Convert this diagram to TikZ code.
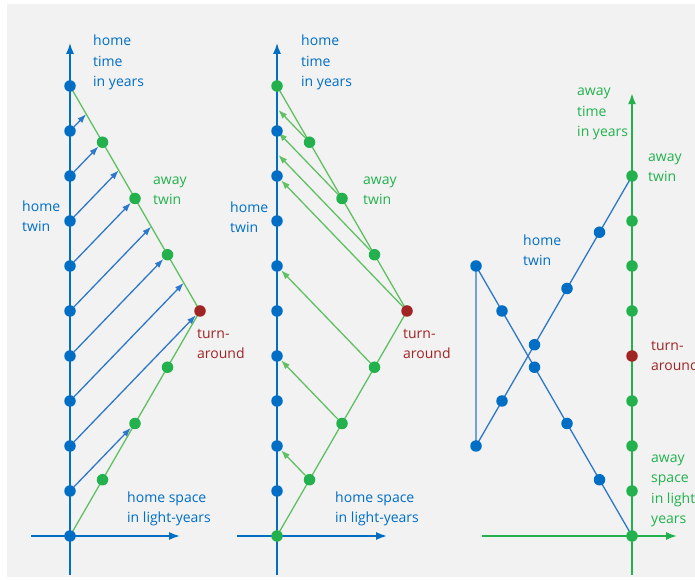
\documentclass[tikz,border=0pt]{standalone}
\usepackage{fontspec}
\setmainfont{Open Sans}
\usetikzlibrary{arrows.meta}
\definecolor{hblue}{RGB}{0,110,196}
\definecolor{sblue}{RGB}{45,120,200}
\definecolor{agreen}{RGB}{34,177,76}
\definecolor{lgreen}{RGB}{95,192,100}
\definecolor{tred}{RGB}{160,36,36}
\definecolor{bggray}{RGB}{242,242,242}
\pgfdeclarelayer{back}
\pgfdeclarelayer{bg}
\pgfsetlayers{back,bg,main}
\begin{document}
\begin{tikzpicture}[x=1pt,y=1pt,
 dot/.style={circle,inner sep=0pt,minimum size=11.5pt},
 hdot/.style={dot,fill=hblue},
 adot/.style={dot,fill=agreen},
 tdot/.style={dot,fill=tred},
 baxis/.style={draw=hblue,line width=1.8pt,-{Latex[length=11pt,width=8pt]}},
 gaxis/.style={draw=agreen,line width=1.8pt,-{Latex[length=11pt,width=8pt]}},
 bline/.style={draw=sblue,line width=1.3pt},
 gline/.style={draw=lgreen,line width=1.3pt},
 barrow/.style={bline,-{Latex[length=9pt,width=6.5pt]}},
 garrow/.style={gline,-{Latex[length=9pt,width=6.5pt]}},
 lbl/.style={align=left,inner sep=0pt,anchor=base west,font=\fontsize{14}{20.5}\selectfont},
]
\useasboundingbox (0,0) rectangle (695,580);
\clip (0,0) rectangle (695,580);
\begin{pgfonlayer}{back}
 \fill[bggray] (7,3) rectangle (695,576);
\end{pgfonlayer}

% ---------- left panel ----------
\begin{scope}[shift={(70pt,44pt)},x=43.333pt,y=45pt]
 \foreach \k in {0,...,10} \node[hdot] (L\k) at (0,\k) {};
 \node[adot] (La1) at (0.75,1.25) {};
 \node[adot] (La2) at (1.5,2.5) {};
 \node[adot] (La3) at (2.25,3.75) {};
 \node[tdot] (LT) at (3,5) {};
 \node[adot] (La5) at (2.25,6.25) {};
 \node[adot] (La6) at (1.5,7.5) {};
 \node[adot] (La7) at (0.75,8.75) {};
 \coordinate (Lm3) at (2.625,5.625);
 \coordinate (Lm5) at (1.875,6.875);
 \coordinate (Lm7) at (1.125,8.125);
 \coordinate (Lm9) at (0.375,9.375);
 \coordinate (Lbot) at (0,-0.87);
 \coordinate (Ltop) at (0,10.96);
 \coordinate (Lleft) at (-0.9,0);
 \coordinate (Lright) at (2.54,0);
\end{scope}
\begin{pgfonlayer}{bg}
 \draw[baxis] (Lbot) -- (Ltop);
 \draw[baxis] (Lleft) -- (Lright);
 \draw[gline] (L0.center) -- (LT.center) -- (L10.center);
 \draw[barrow] (L1) -- (La2);
 \draw[barrow] (L2) -- (LT);
 \draw[barrow] (L3) -- (Lm3);
 \draw[barrow] (L4) -- (La5);
 \draw[barrow] (L5) -- (Lm5);
 \draw[barrow] (L6) -- (La6);
 \draw[barrow] (L7) -- (Lm7);
 \draw[barrow] (L8) -- (La7);
 \draw[barrow] (L9) -- (Lm9);
\end{pgfonlayer}
\node[lbl,text=hblue] (Lht) at (93,493) {home\\time\\in years};
\node[lbl,text=agreen] (Law) at (153,375) {away\\twin};
\node[lbl,text=hblue] (Lhw) at (22,348) {home\\twin};
\node[lbl,text=tred] (Ltr) at (197,221) {turn-\\around};
\node[lbl,text=hblue] (Lhs) at (127,57) {home space\\in light-years};

% ---------- middle panel ----------
\begin{scope}[shift={(277pt,44pt)},x=43.333pt,y=45pt]
 \node[adot] (M0) at (0,0) {};
 \foreach \k in {1,...,9} \node[hdot] (M\k) at (0,\k) {};
 \node[adot] (M10) at (0,10) {};
 \node[adot] (Ma1) at (0.75,1.25) {};
 \node[adot] (Ma2) at (1.5,2.5) {};
 \node[adot] (Ma3) at (2.25,3.75) {};
 \node[tdot] (MT) at (3,5) {};
 \node[adot] (Ma5) at (2.25,6.25) {};
 \node[adot] (Ma6) at (1.5,7.5) {};
 \node[adot] (Ma7) at (0.75,8.75) {};
 \coordinate (Mh85) at (0,8.5);
 \coordinate (Mh9) at (0,9);
 \coordinate (Mh95) at (0,9.5);
 \coordinate (Mbot) at (0,-0.87);
 \coordinate (Mtop) at (0,10.96);
 \coordinate (Mleft) at (-0.92,0);
 \coordinate (Mright) at (2.54,0);
\end{scope}
\begin{pgfonlayer}{bg}
 \draw[baxis] (Mbot) -- (Mtop);
 \draw[baxis] (Mleft) -- (Mright);
 \draw[gline] (M0.center) -- (MT.center) -- (M10.center);
 \draw[garrow] (Ma1) -- (M2);
 \draw[garrow] (Ma2) -- (M4);
 \draw[garrow] (Ma3) -- (M6);
 \draw[garrow] (MT) -- (M8);
 \draw[garrow,shorten >=2pt] (Ma5) -- (Mh85);
 \draw[garrow,shorten >=2pt] (Ma6) -- (Mh9);
 \draw[garrow,shorten >=2pt] (Ma7) -- (Mh95);
\end{pgfonlayer}
\node[lbl,text=hblue] (Mht) at (301,493) {home\\time\\in years};
\node[lbl,text=agreen] (Maw) at (363,375) {away\\twin};
\node[lbl,text=hblue] (Mhw) at (230,347) {home\\twin};
\node[lbl,text=tred] (Mtr) at (403,221) {turn-\\around};
\node[lbl,text=hblue] (Mhs) at (335,57) {home space\\in light-years};

% ---------- right panel ----------
\begin{scope}[shift={(632pt,44pt)},x=43.333pt,y=45pt]
 \foreach \k in {0,1,2,3,5,6,7,8} \node[adot] (R\k) at (0,\k) {};
 \node[tdot] (R4) at (0,4) {};
 \node[hdot] (Rb1) at (-0.75,1.25) {};
 \node[hdot] (Rb2) at (-1.5,2.5) {};
 \node[hdot] (Rb3) at (-2.25,3.75) {};
 \node[hdot] (Rb4) at (-3,5) {};
 \node[hdot] (Rb5) at (-3.6,6) {};
 \node[hdot] (Rc0) at (-3.6,2) {};
 \node[hdot] (Rc1) at (-3,3) {};
 \node[hdot] (Rc2) at (-2.25,4.25) {};
 \node[hdot] (Rc3) at (-1.5,5.5) {};
 \node[hdot] (Rc4) at (-0.75,6.75) {};
 \coordinate (Rbot) at (0,-0.87);
 \coordinate (Rtop) at (0,9.84);
 \coordinate (Rleft) at (-3.46,0);
 \coordinate (Rright) at (1.04,0);
\end{scope}
\begin{pgfonlayer}{bg}
 \draw[gaxis] (Rbot) -- (Rtop);
 \draw[gaxis] (Rleft) -- (Rright);
 \draw[bline] (R0.center) -- (Rb5.center) -- (Rc0.center) -- (R8.center);
\end{pgfonlayer}
\node[lbl,text=agreen] (Rat) at (577,443) {away\\time\\in years};
\node[lbl,text=agreen] (Raw) at (648,398) {away\\twin};
\node[lbl,text=hblue] (Rhw) at (523,314) {home\\twin};
\node[lbl,text=tred] (Rtr) at (651,209) {turn-\\around};
\node[lbl,text=agreen] (Ras) at (651,56) {away\\space\\in light-\\years};
\end{tikzpicture}
\end{document}
